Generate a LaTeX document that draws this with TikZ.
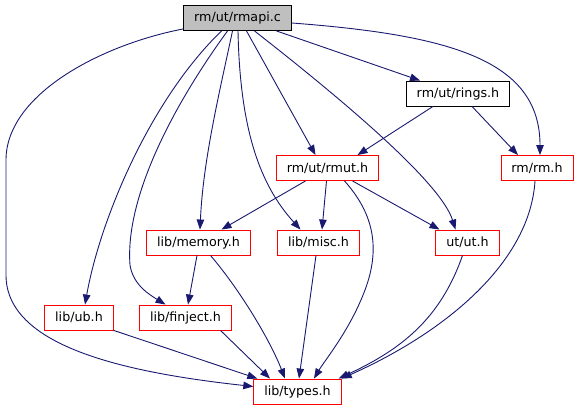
\documentclass[tikz,border=0pt]{standalone}
\usepackage{fontspec}
\setmainfont{DejaVu Sans}
\usepackage{xcolor}
\definecolor{EdgeBlue}{RGB}{25, 25,112}
\definecolor{NodeGray}{RGB}{191,191,191}
\usepackage{tikz}
\usetikzlibrary{arrows.meta, positioning}

\begin{document}
\begin{tikzpicture}[x=1pt, y=-1pt,
  hdr/.style={draw=red, rectangle, line width=0.9pt, inner xsep=10.5pt,
              minimum height=25pt, font=\fontsize{12.7}{15}\selectfont},
  top/.style={hdr, draw=black},
  src/.style={top, fill=NodeGray},
  arr/.style={-{Triangle[length=10pt, width=7.5pt]}, EdgeBlue, line width=0.9pt}
]
  \useasboundingbox (0,0) rectangle (580,411);

  \node[src] (rmapi)   at (237.5, 18)   {rm/ut/rmapi.c};
  \node[top] (rings)   at (458, 93.5)   {rm/ut/rings.h};
  \node[hdr] (rmut)    at (327.5, 168)  {rm/ut/rmut.h};
  \node[hdr] (rm)      at (537, 168)    {rm/rm.h};
  \node[hdr] (memory)  at (198.5, 242.5){lib/memory.h};
  \node[hdr] (misc)    at (318.5, 242.5){lib/misc.h};
  \node[hdr] (ut)      at (467.5, 242.5){ut/ut.h};
  \node[hdr] (ub)      at (79, 317.5)   {lib/ub.h};
  \node[hdr] (finject) at (185.5, 317.5){lib/finject.h};
  \node[hdr] (types)   at (297.5, 391.5){lib/types.h};

  % rmapi.c includes
  \draw[arr] ([yshift=2pt]rmapi.south west) .. controls (100,45) and (6,95) .. (6,160)
    -- (6,275) .. controls (6,345) and (120,372) .. ([yshift=5pt]types.west);
  \draw[arr] ([xshift=-16pt]rmapi.south) .. controls (150,100) and (100,220) .. ([xshift=6pt]ub.north);
  \draw[arr] ([xshift=-10pt]rmapi.south) .. controls (170,110) and (125,200) .. (130,265)
    .. controls (133,285) and (150,295) .. ([xshift=-20pt]finject.north);
  \draw[arr] ([xshift=-5pt]rmapi.south) .. controls (220,90) and (203,160) .. ([xshift=1.5pt]memory.north);
  \draw[arr] ([xshift=0.5pt]rmapi.south) .. controls (240,130) and (260,185) .. ([xshift=-18pt]misc.north);
  \draw[arr] ([xshift=9pt]rmapi.south) -- ([xshift=-12pt]rmut.north);
  \draw[arr] ([xshift=17pt]rmapi.south) .. controls (330,90) and (440,180) .. ([xshift=-12pt]ut.north);
  \draw[arr] ([xshift=39pt]rmapi.south) -- ([xshift=-38pt]rings.north);
  \draw[arr] ([yshift=-5pt]rmapi.east) .. controls (450,35) and (540,60) .. ([xshift=3pt]rm.north);

  % rings.h
  \draw[arr] ([xshift=-25pt]rings.south) -- ([xshift=30pt]rmut.north);
  \draw[arr] ([xshift=14pt]rings.south) -- ([xshift=-19pt]rm.north);

  % rmut.h
  \draw[arr] ([xshift=-22pt]rmut.south) -- ([xshift=23pt]memory.north);
  \draw[arr] ([xshift=-1pt]rmut.south) -- ([xshift=3.5pt]misc.north);
  \draw[arr] ([xshift=25pt]rmut.south) -- ([xshift=-28pt]ut.north);
  \draw[arr] ([xshift=17pt]rmut.south) .. controls (375,215) and (380,250) .. (365,290)
    .. controls (350,330) and (325,360) .. ([xshift=16.5pt]types.north);

  % down to types.h
  \draw[arr] ([xshift=-2pt]rm.south) .. controls (530,260) and (450,330) .. (types.north east);
  \draw[arr] ([xshift=-5pt]ut.south) .. controls (440,320) and (400,350) .. ([xshift=-3pt]types.north east);
  \draw[arr] ([xshift=-1.5pt]memory.south) -- ([xshift=2.5pt]finject.north);
  \draw[arr] ([xshift=12pt]memory.south) .. controls (240,290) and (270,340) .. ([xshift=-12.5pt]types.north);
  \draw[arr] ([xshift=-2.5pt]misc.south) -- ([xshift=1.5pt]types.north);
  \draw[arr] ([xshift=35pt]finject.south) -- ([xshift=-27.5pt]types.north);
  \draw[arr] (ub.south east) -- ([xshift=4pt]types.north west);
\end{tikzpicture}
\end{document}
